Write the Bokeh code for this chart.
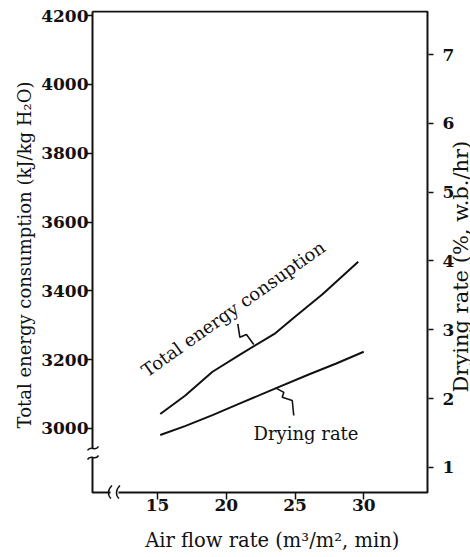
import math
from bokeh.plotting import figure
from bokeh.models import Range1d, LinearAxis, FixedTicker, Label
from bokeh.embed import file_html
from bokeh.resources import INLINE

# ---- data ----
air_flow_energy = [15.2, 17.0, 19.0, 21.0, 23.5, 25.0, 27.0, 29.6]
energy = [3042, 3095, 3165, 3215, 3275, 3325, 3390, 3485]
air_flow_drying = [15.2, 17.0, 19.0, 21.0, 23.5, 26.0, 28.0, 30.0]
drying = [1.47, 1.60, 1.76, 1.93, 2.14, 2.35, 2.51, 2.68]
x_ticks = [15, 20, 25, 30]
energy_ticks = [3000, 3200, 3400, 3600, 3800, 4000, 4200]
drying_ticks = [1, 2, 3, 4, 5, 6, 7]

x_title = "Air flow rate (m³/m², min)"
left_title = "Total energy consumption (kJ/kg H₂O)"
right_title = "Drying rate (%, w.b./hr)"
energy_label = "Total energy consuption"
drying_label = "Drying rate"

# ---- ranges ----
X_RANGE = (9.8364, 37.7636)
E_RANGE = (2793.6, 4215.1)
D_RANGE = (0.533, 7.6395)
X_RIGHT_AXIS = 34.709          # where the right (drying-rate) axis sits
BOX_X = (10.2727, 34.636)
BOX_E = (2813.95, 4212.2)
BREAK_E = (2915.7, 2941.9)
BREAK_X = (11.582, 12.164)
# axis extents used to place the axis titles like the reference
E_BOUNDS = (2907.0, 4215.1)
D_TITLE_BOUNDS = (0.533, 3.6435)

FONT = "DejaVu Serif"
INK = "#111111"
NB = "\u00a0"

p = figure(width=470, height=557, x_range=Range1d(*X_RANGE), y_range=Range1d(*E_RANGE),
           output_backend="svg", toolbar_location=None,
           min_border_left=86, min_border_right=0, min_border_top=10, min_border_bottom=58)
p.extra_y_ranges = {"drying": Range1d(*D_RANGE)}
ra = LinearAxis(y_range_name="drying", fixed_location=X_RIGHT_AXIS)
rt = LinearAxis(y_range_name="drying", fixed_location=X_RIGHT_AXIS)
p.add_layout(ra, "right")
p.add_layout(rt, "right")
p.grid.visible = False
p.outline_line_color = None
p.background_fill_color = "white"
p.border_fill_color = "white"

for ax in p.axis:
    ax.axis_line_color = None
    ax.minor_tick_line_color = None
    ax.major_tick_line_color = INK
    ax.major_tick_line_width = 1.5
    ax.major_label_text_font = FONT
    ax.major_label_text_font_style = "bold"
    ax.major_label_text_font_size = "17px"
    ax.major_label_text_color = INK
    ax.axis_label_text_font = FONT
    ax.axis_label_text_font_style = "normal"
    ax.axis_label_text_color = INK

xa = p.xaxis[0]
xa.ticker = FixedTicker(ticks=x_ticks)
xa.major_tick_in = 7
xa.major_tick_out = 0
xa.major_label_standoff = -1
xa.axis_label = x_title + NB * 2
xa.axis_label_text_font_size = "19.5px"
xa.axis_label_standoff = 15

la = p.yaxis[0]
la.ticker = FixedTicker(ticks=energy_ticks)
la.bounds = E_BOUNDS
la.major_tick_in = 6
la.major_tick_out = 0
la.major_label_standoff = -2
la.axis_label = left_title
la.axis_label_text_font_size = "18px"
la.axis_label_standoff = 3

# right axis: ticks and numbers
ra.ticker = FixedTicker(ticks=drying_ticks)
ra.major_tick_in = 0
ra.major_tick_out = 5
ra.major_label_standoff = 9

# right axis title (reads bottom to top)
rt.ticker = FixedTicker(ticks=[])
rt.bounds = D_TITLE_BOUNDS
rt.major_tick_in = 0
rt.major_tick_out = 0
rt.major_label_standoff = 0
rt.axis_label = right_title
rt.axis_label_orientation = math.pi / 2
rt.axis_label_text_font_size = "21px"
rt.axis_label_standoff = 32

# ---- frame box with breaks ----
x0, x1 = BOX_X
e0, e1 = BOX_E
p.multi_line(
    xs=[[x0, x1, x1, BREAK_X[1]], [BREAK_X[0], x0, x0], [x0, x0]],
    ys=[[e1, e1, e0, e0], [e0, e0, BREAK_E[0]], [BREAK_E[1], e1]],
    line_color=INK, line_width=2)
# break marks (tildes across the left axis, parentheses across the bottom axis)
dx_px = 1 / 13.75
de_px = 1 / 0.344
for ey in BREAK_E:
    p.bezier(x0=[x0 - 5 * dx_px], y0=[ey - 2 * de_px], x1=[x0 + 6 * dx_px], y1=[ey + 2 * de_px],
             cx0=[x0 - 1.5 * dx_px], cy0=[ey + 4 * de_px], cx1=[x0 + 2.5 * dx_px], cy1=[ey - 4 * de_px],
             line_color=INK, line_width=1.5)
for xx in BREAK_X:
    p.bezier(x0=[xx + 1.5 * dx_px], y0=[e0 + 7 * de_px], x1=[xx + 0.5 * dx_px], y1=[e0 - 6 * de_px],
             cx0=[xx - 3 * dx_px], cy0=[e0 + 3 * de_px], cx1=[xx - 3 * dx_px], cy1=[e0 - 3 * de_px],
             line_color=INK, line_width=1.5)

# ---- curves ----
p.line(air_flow_energy, energy, line_color=INK, line_width=2)
p.line(air_flow_drying, drying, line_color=INK, line_width=2, y_range_name="drying")

# pointers
p.line([20.84, 20.99, 21.47, 22.0], [3304, 3265, 3273, 3244], line_color=INK, line_width=1.6)
p.line([24.91, 24.80, 24.07, 24.19, 23.58], [1.754, 1.972, 2.02, 2.09, 2.155],
       line_color=INK, line_width=1.6, y_range_name="drying")

# in-plot labels
p.add_layout(Label(x=13.98, y=3163, text=energy_label, angle=0.618, text_align="left",
                   text_baseline="alphabetic", text_font=FONT, text_font_size="18px",
                   text_color=INK))
p.add_layout(Label(x=21.98, y=1.49, y_range_name="drying", text=drying_label, text_align="left",
                   text_baseline="alphabetic", text_font=FONT, text_font_size="18px",
                   text_color=INK))

open("out.html", "w").write(file_html(p, INLINE))
